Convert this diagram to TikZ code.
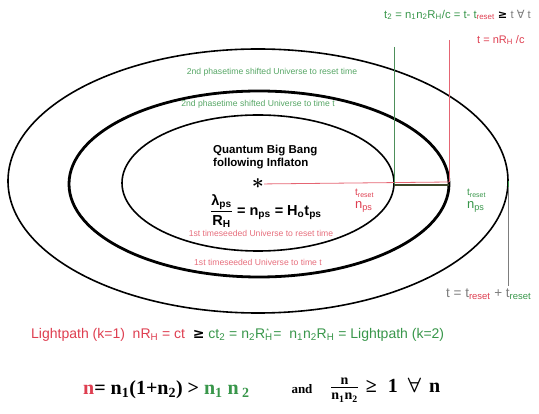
\documentclass[tikz,border=0pt]{standalone}
\usepackage{amsmath}
\usepackage{fontspec}
\setmainfont{Liberation Sans}
\newfontfamily\timesfont{Liberation Serif}
\newfontfamily\symfont{DejaVu Sans}
\usetikzlibrary{calc}
\definecolor{uRed}{RGB}{222,62,80}
\definecolor{uGreen}{RGB}{56,150,74}
\definecolor{uGrey}{RGB}{125,125,125}
\definecolor{uOlive}{RGB}{60,70,40}

\begin{document}
\begin{tikzpicture}[
    x=1pt, y=-1pt,
    ring/.style={draw=black, line width=1.6pt},
    thickring/.style={draw=black, line width=2.8pt},
    redline/.style={draw=uRed!80, line width=0.8pt},
    greenline/.style={draw=uGreen!70!gray, line width=0.8pt},
    tinyred/.style={font=\fontsize{8.6}{9}\selectfont, text=uRed!75},
    tinygreen/.style={font=\fontsize{8.6}{9}\selectfont, text=uGreen!85},
    toplabel/.style={font=\fontsize{11.3}{12}\selectfont, inner sep=0pt},
    bigbang/.style={font=\fontsize{11.5}{12.5}\selectfont\bfseries, align=left, inner sep=0pt},
    resetlabel/.style={font=\fontsize{10}{12}\selectfont, align=left, inner sep=0pt, anchor=west},
    bottomrel/.style={font=\timesfont\bfseries\fontsize{20}{22}\selectfont, inner sep=0pt}
]
\useasboundingbox (0,0) rectangle (539,414);

% Universes
\draw[ring] (258,181) ellipse [x radius=250pt, y radius=132pt];
\draw[thickring] (259,184) ellipse [x radius=190pt, y radius=93pt];
\draw[ring] (258,183) ellipse [x radius=136pt, y radius=68pt];

% Points on the rims
\node[inner sep=0pt] (bang) at (258,184) {\scalebox{2.1}{$\boldsymbol{\ast}$}};
\coordinate (redEnd) at (449,182);
\coordinate (redTop) at (449,40);
\coordinate (innerRim) at (394,185);
\coordinate (greenTop) at (394,47);
\coordinate (midRim) at (449,185);
\coordinate (outerRim) at (508,181);
\coordinate (greyBot) at (508,286);

% Lightpaths
\draw[redline] (bang) -- (redEnd);
\draw[redline] (redTop) -- (redEnd);
\draw[greenline] (greenTop) -- (innerRim);
\draw[uOlive, line width=1.8pt] (innerRim) -- (midRim);
\draw[uGrey, line width=0.9pt] (outerRim) -- (greyBot);
\draw[uGreen, line width=1pt] (outerRim) -- ++(0,6);

% Labels on top
\node[toplabel, anchor=west] (t2) at (384,15) {\color{uGreen}t\textsubscript{2} = n\textsubscript{1}n\textsubscript{2}R\textsubscript{H}/c = t- t\textsubscript{\color{uRed}reset} \color{black}{\symfont\bfseries ≥} \color{uGrey}t {\symfont ∀} t};
\node[toplabel, anchor=west, text=uRed, font=\fontsize{11}{12}\selectfont] (tn) at (477,40) {t = nR\textsubscript{H} /c};

% Ring captions
\node[tinygreen] (cap2r) at (272,72) {2nd phasetime shifted Universe to reset time};
\node[tinygreen] (cap2t) at (258,104) {2nd phasetime shifted Universe to time t};
\node[tinyred] (cap1r) at (261,233) {1st timeseeded Universe to reset time};
\node[tinyred] (cap1t) at (258,262) {1st timeseeded Universe to time t};

% Centre
\node[bigbang, anchor=west] (qbb) at (213,157) {Quantum Big Bang\\following Inflaton};
\node[font=\fontsize{14.5}{16}\selectfont\bfseries, inner sep=0pt, anchor=west] (ps) at (210,211) {$\dfrac{\text{λ\textsubscript{ps}}}{\text{R\textsubscript{H}}}$ = n\textsubscript{ps} = H\textsubscript{o}t\textsubscript{ps}};
\node[resetlabel, text=uRed] (rreset) at (355,201) {t\textsubscript{reset}\\[1pt]{\fontsize{13}{13}\selectfont n\textsubscript{ps}}};
\node[resetlabel, text=uGreen] (greset) at (467,201) {t\textsubscript{reset}\\[1pt]{\fontsize{13}{13}\selectfont n\textsubscript{ps}}};
\node[toplabel, anchor=west, font=\fontsize{13.5}{14}\selectfont] (tsum) at (446,294) {\color{uGrey}t = t\textsubscript{\color{uRed}reset} + t\textsubscript{\color{uGreen}reset}};

% Lightpath relation
\node[font=\fontsize{14}{16}\selectfont, anchor=west, inner sep=0pt] (light) at (31,335) {\color{uRed}Lightpath (k=1)\ \ nR\textsubscript{H} = ct \ \color{black}{\symfont\bfseries ≥} \color{uGreen}ct\textsubscript{2} = n\textsubscript{2}R\textsubscript{H}\kern-0.45em\raisebox{0.75ex}{\scriptsize *}\kern0.3em=\ \ n\textsubscript{1}n\textsubscript{2}R\textsubscript{H} = Lightpath (k=2)};

% Bottom relation
\node[bottomrel, anchor=west] (nrel) at (83,390) {\color{uRed}n\color{black} = n\textsubscript{1}(1+n\textsubscript{2}) > \color{uGreen}n\textsubscript{1} n\,\textsubscript{2}};
\node[bottomrel, font=\timesfont\bfseries\fontsize{13}{15}\selectfont] (andword) at (302,389) {and};
\node[bottomrel, anchor=west] (ratio) at (330,390) {$\frac{\text{n}}{\text{n\textsubscript{1}n\textsubscript{2}}}$\hspace{0.35em}≥\hspace{0.55em}1\hspace{0.5em}$\boldsymbol{\forall}$\hspace{0.4em}n};

\end{tikzpicture}
\end{document}
